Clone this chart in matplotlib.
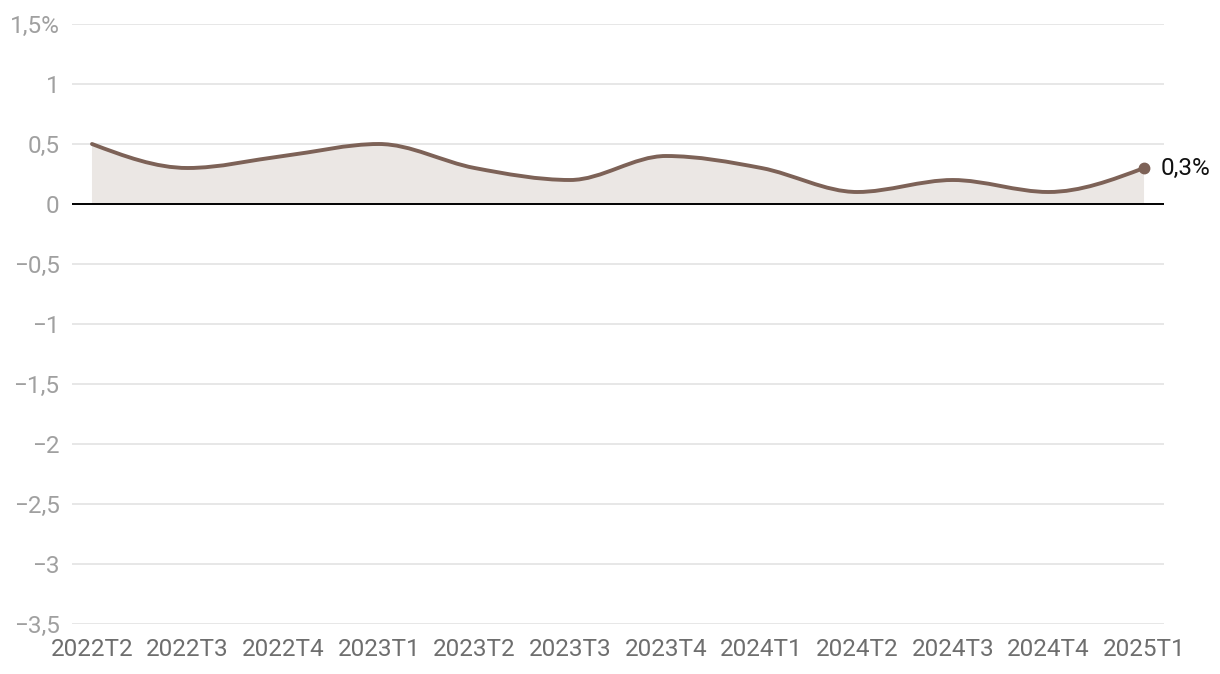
import numpy as np
import matplotlib
matplotlib.use("Agg")
import matplotlib.pyplot as plt
from matplotlib.path import Path
from matplotlib.patches import PathPatch

plt.rcParams['font.family'] = ['Roboto', 'DejaVu Sans']

categories = ["2022T2", "2022T3", "2022T4", "2023T1", "2023T2", "2023T3",
              "2023T4", "2024T1", "2024T2", "2024T3", "2024T4", "2025T1"]
values = [0.5, 0.3, 0.4, 0.5, 0.3, 0.2, 0.4, 0.3, 0.1, 0.2, 0.1, 0.3]
yticks = [1.5, 1, 0.5, 0, -0.5, -1, -1.5, -2, -2.5, -3, -3.5]
ytick_labels = ["1,5%", "1", "0,5", "0", "\u22120,5", "\u22121", "\u22121,5",
                "\u22122", "\u22122,5", "\u22123", "\u22123,5"]
end_label = "0,3%"

LINE = "#7d6257"
FILL = "#ebe7e4"


def monotone_tangents(x, y):
    n = len(x)
    t = np.zeros(n)
    h = np.diff(x)
    s = np.diff(y) / h
    for i in range(1, n - 1):
        s0, s1 = s[i - 1], s[i]
        h0, h1 = h[i - 1], h[i]
        p = (s0 * h1 + s1 * h0) / (h0 + h1)
        t[i] = (np.sign(s0) + np.sign(s1)) * min(abs(s0), abs(s1), 0.5 * abs(p))
    t[0] = (3 * s[0] - t[1]) / 2
    t[-1] = (3 * s[-1] - t[-2]) / 2
    return t


def monotone_path_vertices(x, y):
    t = monotone_tangents(x, y)
    verts = [(x[0], y[0])]
    codes = [Path.MOVETO]
    for i in range(len(x) - 1):
        dx = x[i + 1] - x[i]
        verts += [(x[i] + dx / 3, y[i] + dx * t[i] / 3),
                  (x[i + 1] - dx / 3, y[i + 1] - dx * t[i + 1] / 3),
                  (x[i + 1], y[i + 1])]
        codes += [Path.CURVE4] * 3
    return verts, codes


fig = plt.figure(figsize=(12.2, 6.74), dpi=100)
ax = fig.add_axes([72 / 1220, 1 - 624 / 674, (1164 - 72) / 1220, 600 / 674])

xs = np.arange(len(categories), dtype=float)
ys = np.array(values, dtype=float)
verts, codes = monotone_path_vertices(xs, ys)

# fill area
fverts = verts + [(xs[-1], 0), (xs[0], 0), (xs[0], ys[0])]
fcodes = codes + [Path.LINETO, Path.LINETO, Path.CLOSEPOLY]
ax.add_patch(PathPatch(Path(fverts, fcodes), facecolor=FILL, edgecolor='none', zorder=2))
ax.add_patch(PathPatch(Path(verts, codes), facecolor='none', edgecolor=LINE,
                       linewidth=2.8, capstyle='round', zorder=4))

for yv in yticks:
    if yv == 0:
        continue
    ax.axhline(yv, color="#e3e3e3", linewidth=1.2, zorder=1)
ax.axhline(0, color="black", linewidth=1.4, zorder=3)

ax.plot([xs[-1]], [ys[-1]], 'o', color=LINE, markersize=7.5, zorder=5)
ax.annotate(end_label, (xs[-1], ys[-1]), xytext=(12, 0), textcoords='offset points',
            va='center', ha='left', fontsize=17.5, color='#111111')

ax.set_xlim(-0.209, len(categories) - 1 + 0.209)
ax.set_ylim(-3.5, 1.5)
ax.set_yticks(yticks)
ax.set_yticklabels(ytick_labels)
ax.set_xticks(xs)
ax.set_xticklabels(categories)
ax.tick_params(axis='y', length=0, pad=9, labelsize=17.5, labelcolor='#a0a0a0')
ax.tick_params(axis='x', length=0, pad=10, labelsize=17.5, labelcolor='#6e6e6e')
for sp in ax.spines.values():
    sp.set_visible(False)
ax.set_facecolor('none')

fig.savefig("out.png", dpi=100)
